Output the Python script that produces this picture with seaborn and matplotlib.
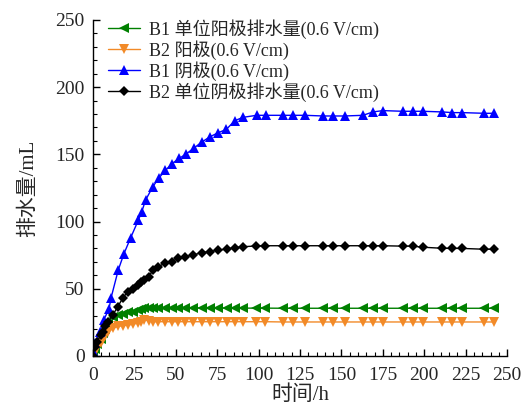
import pandas as pd
import matplotlib
matplotlib.use("Agg")
import matplotlib.pyplot as plt
from matplotlib.ticker import MultipleLocator
import seaborn as sns

# Time points (h)
t_shared = [0, 1, 2.6, 4.6, 6, 7.5, 9, 12, 15, 18, 21, 24, 27, 29, 31, 34,
            36, 39.5, 43.5, 47.5, 51.5, 55.6, 60.6, 65.6, 70.7, 75.7, 80.7, 85.7,
            90.8, 98.4, 104, 115, 121, 128, 139, 145, 152, 163, 169, 175, 187,
            193, 199, 211, 217, 223, 236, 242]
t_b1_cathode = [0, 0.6, 1.4, 4, 6.6, 9.7, 11, 15.3, 18.7, 22.8, 27.4, 29.4, 31.8,
                36.2, 39.9, 43.7, 47.7, 52.1, 56, 60.8, 65.6, 70.6, 75.5, 80.5,
                85.6, 90.6, 98.8, 104.3, 115, 121, 128, 139, 145, 152, 163, 169,
                175, 187, 193, 199, 211, 217, 223, 236, 242]

# Drainage volume (mL)
b1_anode_unit = [0, 5, 9, 13, 17, 20, 24, 29, 30.5, 31.5, 32.5, 33, 34, 35, 35.5, 36,
                 36, 36, 35.8, 35.8, 35.8, 35.8, 35.7, 35.7, 35.7, 35.7, 35.7, 35.7,
                 35.6, 35.6, 35.6, 35.5, 35.5, 35.5, 35.5, 35.5, 35.5, 35.5, 35.5, 35.5,
                 35.5, 35.5, 35.5, 35.5, 35.5, 35.5, 35.5, 35.5]
b2_anode = [0, 3, 6.5, 10, 12.5, 15, 17.5, 20.5, 22, 22.5, 23, 23.5, 24.5, 25.5, 27, 26,
            25.5, 25.5, 25.5, 25.5, 25.5, 25.5, 25.5, 25.5, 25.5, 25.5, 25.5, 25.5,
            25.5, 25.5, 25.5, 25.3, 25.3, 25.3, 25.3, 25.3, 25.3, 25.3, 25.3, 25.3,
            25.3, 25.3, 25.3, 25.3, 25.3, 25.3, 25.3, 25.3]
b1_cathode = [0, 2, 10, 18, 27, 35, 43.5, 64, 76, 88, 101, 107, 116, 126, 132.5, 138,
              143, 147, 150, 154.5, 159, 163, 166, 168.5, 175, 177.5, 179, 179, 179,
              179, 179, 178.5, 178.5, 178.5, 179, 181.5, 182.5, 182, 182, 182, 181.5,
              181, 181, 180.5, 180.5]
b2_cathode_unit = [0, 7, 10.6, 15.6, 18, 22, 25.5, 30.5, 36.7, 43, 47.9, 50, 52.8, 54.8,
                   56.5, 59, 64, 66.5, 69, 70.2, 72.7, 73.9, 75.1, 76.9, 77.6, 78.9, 79.4,
                   80.6, 81.3, 81.8, 82, 82, 82, 82, 82, 82, 82, 82, 82, 82, 81.7, 81.7,
                   80.9, 80.1, 80, 80, 79.4, 79.4]

labels = ["B1 单位阳极排水量(0.6 V/cm)", "B2 阳极(0.6 V/cm)",
          "B1 阴极(0.6 V/cm)", "B2 单位阴极排水量(0.6 V/cm)"]

sns.set_style("ticks")
fonts = ["Liberation Serif", "Noto Sans CJK SC", "DejaVu Sans"]
plt.rcParams["font.family"] = fonts
plt.rcParams["axes.unicode_minus"] = False

fig = plt.figure(figsize=(5.31, 4.05), dpi=100)
ax = fig.add_axes([0.175, 0.121, 0.780, 0.830])

series = [
    (t_shared, b1_anode_unit, "#008000", "<", 6.5),
    (t_shared, b2_anode, "#f28a28", "v", 6.5),
    (t_b1_cathode, b1_cathode, "#0000ff", "^", 7),
    (t_shared, b2_cathode_unit, "black", "D", 5),
]
for (t, v, color, mk, ms), lab in zip(series, labels):
    df = pd.DataFrame({"t": t, "v": v})
    sns.lineplot(data=df, x="t", y="v", ax=ax, color=color, marker=mk,
                 markersize=ms, markeredgewidth=0, linewidth=1,
                 estimator=None, errorbar=None, label=lab)

ax.set_xlim(0, 250)
ax.set_ylim(0, 250)
ax.xaxis.set_major_locator(MultipleLocator(25))
ax.xaxis.set_minor_locator(MultipleLocator(5))
ax.yaxis.set_major_locator(MultipleLocator(50))
ax.yaxis.set_minor_locator(MultipleLocator(10))
ax.tick_params(which="both", direction="in", labelsize=14, color="black")
ax.tick_params(which="major", length=5, width=1)
ax.tick_params(axis="x", which="major", pad=8)
ax.tick_params(axis="y", which="major", pad=6)
ax.tick_params(which="minor", length=3, width=0.8)
for s in ["top", "right"]:
    ax.spines[s].set_visible(False)
for s in ["left", "bottom"]:
    ax.spines[s].set_color("black")
    ax.spines[s].set_linewidth(1)

ax.set_xlabel("时间/h", fontsize=15, labelpad=1)
ax.set_ylabel("排水量/mL", fontsize=15, labelpad=12)

ax.legend(loc="upper left", bbox_to_anchor=(0.01, 1.035), frameon=False,
          fontsize=13, handlelength=1.8, handletextpad=0.5, labelspacing=0.08,
          borderaxespad=0.2)

# title (clipped at the top edge of the image, as in the reference)
fig.text(0.585, 1.0 + 9 / 405, "排水量随时间变化", ha="center", va="center",
         fontsize=15)

fig.savefig("out.png", dpi=100)
